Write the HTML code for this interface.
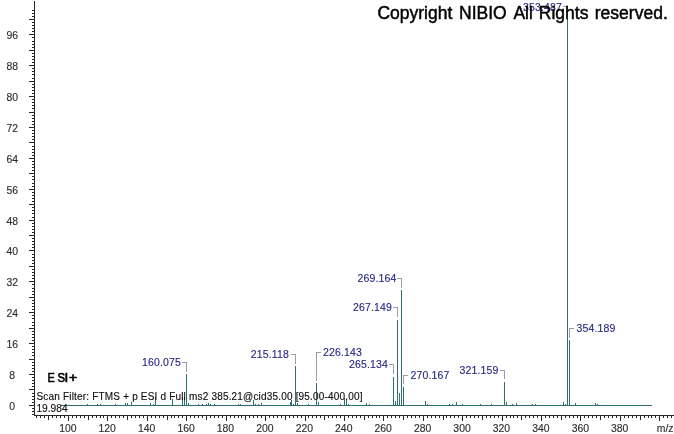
<!DOCTYPE html>
<html><head><meta charset="utf-8"><style>
html,body{margin:0;padding:0;background:#fff;}
svg{display:block;font-family:"Liberation Sans", sans-serif;will-change:transform;}
</style></head><body>
<svg width="674" height="434" viewBox="0 0 674 434" shape-rendering="crispEdges">
<rect x="0" y="0" width="674" height="434" fill="#fff"/>
<rect x="34" y="1" width="1" height="415" fill="#262626"/>
<rect x="34" y="415" width="640" height="1" fill="#262626"/>
<rect x="32" y="414" width="2" height="1" fill="#262626"/>
<rect x="32" y="411" width="2" height="1" fill="#262626"/>
<rect x="32" y="408" width="2" height="1" fill="#262626"/>
<rect x="29" y="405" width="5" height="1" fill="#262626"/>
<rect x="32" y="402" width="2" height="1" fill="#262626"/>
<rect x="32" y="399" width="2" height="1" fill="#262626"/>
<rect x="32" y="396" width="2" height="1" fill="#262626"/>
<rect x="32" y="393" width="2" height="1" fill="#262626"/>
<rect x="29" y="389" width="5" height="1" fill="#262626"/>
<rect x="32" y="386" width="2" height="1" fill="#262626"/>
<rect x="32" y="383" width="2" height="1" fill="#262626"/>
<rect x="32" y="380" width="2" height="1" fill="#262626"/>
<rect x="32" y="377" width="2" height="1" fill="#262626"/>
<rect x="29" y="374" width="5" height="1" fill="#262626"/>
<rect x="32" y="371" width="2" height="1" fill="#262626"/>
<rect x="32" y="368" width="2" height="1" fill="#262626"/>
<rect x="32" y="365" width="2" height="1" fill="#262626"/>
<rect x="32" y="362" width="2" height="1" fill="#262626"/>
<rect x="29" y="359" width="5" height="1" fill="#262626"/>
<rect x="32" y="355" width="2" height="1" fill="#262626"/>
<rect x="32" y="352" width="2" height="1" fill="#262626"/>
<rect x="32" y="349" width="2" height="1" fill="#262626"/>
<rect x="32" y="346" width="2" height="1" fill="#262626"/>
<rect x="29" y="343" width="5" height="1" fill="#262626"/>
<rect x="32" y="340" width="2" height="1" fill="#262626"/>
<rect x="32" y="337" width="2" height="1" fill="#262626"/>
<rect x="32" y="334" width="2" height="1" fill="#262626"/>
<rect x="32" y="331" width="2" height="1" fill="#262626"/>
<rect x="29" y="328" width="5" height="1" fill="#262626"/>
<rect x="32" y="325" width="2" height="1" fill="#262626"/>
<rect x="32" y="322" width="2" height="1" fill="#262626"/>
<rect x="32" y="318" width="2" height="1" fill="#262626"/>
<rect x="32" y="315" width="2" height="1" fill="#262626"/>
<rect x="29" y="312" width="5" height="1" fill="#262626"/>
<rect x="32" y="309" width="2" height="1" fill="#262626"/>
<rect x="32" y="306" width="2" height="1" fill="#262626"/>
<rect x="32" y="303" width="2" height="1" fill="#262626"/>
<rect x="32" y="300" width="2" height="1" fill="#262626"/>
<rect x="29" y="297" width="5" height="1" fill="#262626"/>
<rect x="32" y="294" width="2" height="1" fill="#262626"/>
<rect x="32" y="291" width="2" height="1" fill="#262626"/>
<rect x="32" y="288" width="2" height="1" fill="#262626"/>
<rect x="32" y="284" width="2" height="1" fill="#262626"/>
<rect x="29" y="281" width="5" height="1" fill="#262626"/>
<rect x="32" y="278" width="2" height="1" fill="#262626"/>
<rect x="32" y="275" width="2" height="1" fill="#262626"/>
<rect x="32" y="272" width="2" height="1" fill="#262626"/>
<rect x="32" y="269" width="2" height="1" fill="#262626"/>
<rect x="29" y="266" width="5" height="1" fill="#262626"/>
<rect x="32" y="263" width="2" height="1" fill="#262626"/>
<rect x="32" y="260" width="2" height="1" fill="#262626"/>
<rect x="32" y="257" width="2" height="1" fill="#262626"/>
<rect x="32" y="254" width="2" height="1" fill="#262626"/>
<rect x="29" y="250" width="5" height="1" fill="#262626"/>
<rect x="32" y="247" width="2" height="1" fill="#262626"/>
<rect x="32" y="244" width="2" height="1" fill="#262626"/>
<rect x="32" y="241" width="2" height="1" fill="#262626"/>
<rect x="32" y="238" width="2" height="1" fill="#262626"/>
<rect x="29" y="235" width="5" height="1" fill="#262626"/>
<rect x="32" y="232" width="2" height="1" fill="#262626"/>
<rect x="32" y="229" width="2" height="1" fill="#262626"/>
<rect x="32" y="226" width="2" height="1" fill="#262626"/>
<rect x="32" y="223" width="2" height="1" fill="#262626"/>
<rect x="29" y="220" width="5" height="1" fill="#262626"/>
<rect x="32" y="217" width="2" height="1" fill="#262626"/>
<rect x="32" y="213" width="2" height="1" fill="#262626"/>
<rect x="32" y="210" width="2" height="1" fill="#262626"/>
<rect x="32" y="207" width="2" height="1" fill="#262626"/>
<rect x="29" y="204" width="5" height="1" fill="#262626"/>
<rect x="32" y="201" width="2" height="1" fill="#262626"/>
<rect x="32" y="198" width="2" height="1" fill="#262626"/>
<rect x="32" y="195" width="2" height="1" fill="#262626"/>
<rect x="32" y="192" width="2" height="1" fill="#262626"/>
<rect x="29" y="189" width="5" height="1" fill="#262626"/>
<rect x="32" y="186" width="2" height="1" fill="#262626"/>
<rect x="32" y="183" width="2" height="1" fill="#262626"/>
<rect x="32" y="179" width="2" height="1" fill="#262626"/>
<rect x="32" y="176" width="2" height="1" fill="#262626"/>
<rect x="29" y="173" width="5" height="1" fill="#262626"/>
<rect x="32" y="170" width="2" height="1" fill="#262626"/>
<rect x="32" y="167" width="2" height="1" fill="#262626"/>
<rect x="32" y="164" width="2" height="1" fill="#262626"/>
<rect x="32" y="161" width="2" height="1" fill="#262626"/>
<rect x="29" y="158" width="5" height="1" fill="#262626"/>
<rect x="32" y="155" width="2" height="1" fill="#262626"/>
<rect x="32" y="152" width="2" height="1" fill="#262626"/>
<rect x="32" y="149" width="2" height="1" fill="#262626"/>
<rect x="32" y="146" width="2" height="1" fill="#262626"/>
<rect x="29" y="142" width="5" height="1" fill="#262626"/>
<rect x="32" y="139" width="2" height="1" fill="#262626"/>
<rect x="32" y="136" width="2" height="1" fill="#262626"/>
<rect x="32" y="133" width="2" height="1" fill="#262626"/>
<rect x="32" y="130" width="2" height="1" fill="#262626"/>
<rect x="29" y="127" width="5" height="1" fill="#262626"/>
<rect x="32" y="124" width="2" height="1" fill="#262626"/>
<rect x="32" y="121" width="2" height="1" fill="#262626"/>
<rect x="32" y="118" width="2" height="1" fill="#262626"/>
<rect x="32" y="115" width="2" height="1" fill="#262626"/>
<rect x="29" y="112" width="5" height="1" fill="#262626"/>
<rect x="32" y="108" width="2" height="1" fill="#262626"/>
<rect x="32" y="105" width="2" height="1" fill="#262626"/>
<rect x="32" y="102" width="2" height="1" fill="#262626"/>
<rect x="32" y="99" width="2" height="1" fill="#262626"/>
<rect x="29" y="96" width="5" height="1" fill="#262626"/>
<rect x="32" y="93" width="2" height="1" fill="#262626"/>
<rect x="32" y="90" width="2" height="1" fill="#262626"/>
<rect x="32" y="87" width="2" height="1" fill="#262626"/>
<rect x="32" y="84" width="2" height="1" fill="#262626"/>
<rect x="29" y="81" width="5" height="1" fill="#262626"/>
<rect x="32" y="78" width="2" height="1" fill="#262626"/>
<rect x="32" y="74" width="2" height="1" fill="#262626"/>
<rect x="32" y="71" width="2" height="1" fill="#262626"/>
<rect x="32" y="68" width="2" height="1" fill="#262626"/>
<rect x="29" y="65" width="5" height="1" fill="#262626"/>
<rect x="32" y="62" width="2" height="1" fill="#262626"/>
<rect x="32" y="59" width="2" height="1" fill="#262626"/>
<rect x="32" y="56" width="2" height="1" fill="#262626"/>
<rect x="32" y="53" width="2" height="1" fill="#262626"/>
<rect x="29" y="50" width="5" height="1" fill="#262626"/>
<rect x="32" y="47" width="2" height="1" fill="#262626"/>
<rect x="32" y="44" width="2" height="1" fill="#262626"/>
<rect x="32" y="41" width="2" height="1" fill="#262626"/>
<rect x="32" y="37" width="2" height="1" fill="#262626"/>
<rect x="29" y="34" width="5" height="1" fill="#262626"/>
<rect x="32" y="31" width="2" height="1" fill="#262626"/>
<rect x="32" y="28" width="2" height="1" fill="#262626"/>
<rect x="32" y="25" width="2" height="1" fill="#262626"/>
<rect x="32" y="22" width="2" height="1" fill="#262626"/>
<rect x="29" y="19" width="5" height="1" fill="#262626"/>
<rect x="32" y="16" width="2" height="1" fill="#262626"/>
<rect x="32" y="13" width="2" height="1" fill="#262626"/>
<rect x="32" y="10" width="2" height="1" fill="#262626"/>
<rect x="36" y="416" width="1" height="2" fill="#262626"/>
<rect x="40" y="416" width="1" height="2" fill="#262626"/>
<rect x="44" y="416" width="1" height="2" fill="#262626"/>
<rect x="48" y="416" width="1" height="4" fill="#262626"/>
<rect x="52" y="416" width="1" height="2" fill="#262626"/>
<rect x="56" y="416" width="1" height="2" fill="#262626"/>
<rect x="60" y="416" width="1" height="2" fill="#262626"/>
<rect x="64" y="416" width="1" height="2" fill="#262626"/>
<rect x="68" y="416" width="1" height="5" fill="#262626"/>
<rect x="72" y="416" width="1" height="2" fill="#262626"/>
<rect x="76" y="416" width="1" height="2" fill="#262626"/>
<rect x="80" y="416" width="1" height="2" fill="#262626"/>
<rect x="84" y="416" width="1" height="2" fill="#262626"/>
<rect x="88" y="416" width="1" height="4" fill="#262626"/>
<rect x="92" y="416" width="1" height="2" fill="#262626"/>
<rect x="96" y="416" width="1" height="2" fill="#262626"/>
<rect x="100" y="416" width="1" height="2" fill="#262626"/>
<rect x="103" y="416" width="1" height="2" fill="#262626"/>
<rect x="107" y="416" width="1" height="5" fill="#262626"/>
<rect x="111" y="416" width="1" height="2" fill="#262626"/>
<rect x="115" y="416" width="1" height="2" fill="#262626"/>
<rect x="119" y="416" width="1" height="2" fill="#262626"/>
<rect x="123" y="416" width="1" height="2" fill="#262626"/>
<rect x="127" y="416" width="1" height="4" fill="#262626"/>
<rect x="131" y="416" width="1" height="2" fill="#262626"/>
<rect x="135" y="416" width="1" height="2" fill="#262626"/>
<rect x="139" y="416" width="1" height="2" fill="#262626"/>
<rect x="143" y="416" width="1" height="2" fill="#262626"/>
<rect x="147" y="416" width="1" height="5" fill="#262626"/>
<rect x="151" y="416" width="1" height="2" fill="#262626"/>
<rect x="155" y="416" width="1" height="2" fill="#262626"/>
<rect x="159" y="416" width="1" height="2" fill="#262626"/>
<rect x="163" y="416" width="1" height="2" fill="#262626"/>
<rect x="167" y="416" width="1" height="4" fill="#262626"/>
<rect x="171" y="416" width="1" height="2" fill="#262626"/>
<rect x="174" y="416" width="1" height="2" fill="#262626"/>
<rect x="178" y="416" width="1" height="2" fill="#262626"/>
<rect x="182" y="416" width="1" height="2" fill="#262626"/>
<rect x="186" y="416" width="1" height="5" fill="#262626"/>
<rect x="190" y="416" width="1" height="2" fill="#262626"/>
<rect x="194" y="416" width="1" height="2" fill="#262626"/>
<rect x="198" y="416" width="1" height="2" fill="#262626"/>
<rect x="202" y="416" width="1" height="2" fill="#262626"/>
<rect x="206" y="416" width="1" height="4" fill="#262626"/>
<rect x="210" y="416" width="1" height="2" fill="#262626"/>
<rect x="214" y="416" width="1" height="2" fill="#262626"/>
<rect x="218" y="416" width="1" height="2" fill="#262626"/>
<rect x="222" y="416" width="1" height="2" fill="#262626"/>
<rect x="226" y="416" width="1" height="5" fill="#262626"/>
<rect x="230" y="416" width="1" height="2" fill="#262626"/>
<rect x="234" y="416" width="1" height="2" fill="#262626"/>
<rect x="238" y="416" width="1" height="2" fill="#262626"/>
<rect x="241" y="416" width="1" height="2" fill="#262626"/>
<rect x="245" y="416" width="1" height="4" fill="#262626"/>
<rect x="249" y="416" width="1" height="2" fill="#262626"/>
<rect x="253" y="416" width="1" height="2" fill="#262626"/>
<rect x="257" y="416" width="1" height="2" fill="#262626"/>
<rect x="261" y="416" width="1" height="2" fill="#262626"/>
<rect x="265" y="416" width="1" height="5" fill="#262626"/>
<rect x="269" y="416" width="1" height="2" fill="#262626"/>
<rect x="273" y="416" width="1" height="2" fill="#262626"/>
<rect x="277" y="416" width="1" height="2" fill="#262626"/>
<rect x="281" y="416" width="1" height="2" fill="#262626"/>
<rect x="285" y="416" width="1" height="4" fill="#262626"/>
<rect x="289" y="416" width="1" height="2" fill="#262626"/>
<rect x="293" y="416" width="1" height="2" fill="#262626"/>
<rect x="297" y="416" width="1" height="2" fill="#262626"/>
<rect x="301" y="416" width="1" height="2" fill="#262626"/>
<rect x="305" y="416" width="1" height="5" fill="#262626"/>
<rect x="308" y="416" width="1" height="2" fill="#262626"/>
<rect x="312" y="416" width="1" height="2" fill="#262626"/>
<rect x="316" y="416" width="1" height="2" fill="#262626"/>
<rect x="320" y="416" width="1" height="2" fill="#262626"/>
<rect x="324" y="416" width="1" height="4" fill="#262626"/>
<rect x="328" y="416" width="1" height="2" fill="#262626"/>
<rect x="332" y="416" width="1" height="2" fill="#262626"/>
<rect x="336" y="416" width="1" height="2" fill="#262626"/>
<rect x="340" y="416" width="1" height="2" fill="#262626"/>
<rect x="344" y="416" width="1" height="5" fill="#262626"/>
<rect x="348" y="416" width="1" height="2" fill="#262626"/>
<rect x="352" y="416" width="1" height="2" fill="#262626"/>
<rect x="356" y="416" width="1" height="2" fill="#262626"/>
<rect x="360" y="416" width="1" height="2" fill="#262626"/>
<rect x="364" y="416" width="1" height="4" fill="#262626"/>
<rect x="368" y="416" width="1" height="2" fill="#262626"/>
<rect x="372" y="416" width="1" height="2" fill="#262626"/>
<rect x="376" y="416" width="1" height="2" fill="#262626"/>
<rect x="379" y="416" width="1" height="2" fill="#262626"/>
<rect x="383" y="416" width="1" height="5" fill="#262626"/>
<rect x="387" y="416" width="1" height="2" fill="#262626"/>
<rect x="391" y="416" width="1" height="2" fill="#262626"/>
<rect x="395" y="416" width="1" height="2" fill="#262626"/>
<rect x="399" y="416" width="1" height="2" fill="#262626"/>
<rect x="403" y="416" width="1" height="4" fill="#262626"/>
<rect x="407" y="416" width="1" height="2" fill="#262626"/>
<rect x="411" y="416" width="1" height="2" fill="#262626"/>
<rect x="415" y="416" width="1" height="2" fill="#262626"/>
<rect x="419" y="416" width="1" height="2" fill="#262626"/>
<rect x="423" y="416" width="1" height="5" fill="#262626"/>
<rect x="427" y="416" width="1" height="2" fill="#262626"/>
<rect x="431" y="416" width="1" height="2" fill="#262626"/>
<rect x="435" y="416" width="1" height="2" fill="#262626"/>
<rect x="439" y="416" width="1" height="2" fill="#262626"/>
<rect x="443" y="416" width="1" height="4" fill="#262626"/>
<rect x="446" y="416" width="1" height="2" fill="#262626"/>
<rect x="450" y="416" width="1" height="2" fill="#262626"/>
<rect x="454" y="416" width="1" height="2" fill="#262626"/>
<rect x="458" y="416" width="1" height="2" fill="#262626"/>
<rect x="462" y="416" width="1" height="5" fill="#262626"/>
<rect x="466" y="416" width="1" height="2" fill="#262626"/>
<rect x="470" y="416" width="1" height="2" fill="#262626"/>
<rect x="474" y="416" width="1" height="2" fill="#262626"/>
<rect x="478" y="416" width="1" height="2" fill="#262626"/>
<rect x="482" y="416" width="1" height="4" fill="#262626"/>
<rect x="486" y="416" width="1" height="2" fill="#262626"/>
<rect x="490" y="416" width="1" height="2" fill="#262626"/>
<rect x="494" y="416" width="1" height="2" fill="#262626"/>
<rect x="498" y="416" width="1" height="2" fill="#262626"/>
<rect x="502" y="416" width="1" height="5" fill="#262626"/>
<rect x="506" y="416" width="1" height="2" fill="#262626"/>
<rect x="510" y="416" width="1" height="2" fill="#262626"/>
<rect x="513" y="416" width="1" height="2" fill="#262626"/>
<rect x="517" y="416" width="1" height="2" fill="#262626"/>
<rect x="521" y="416" width="1" height="4" fill="#262626"/>
<rect x="525" y="416" width="1" height="2" fill="#262626"/>
<rect x="529" y="416" width="1" height="2" fill="#262626"/>
<rect x="533" y="416" width="1" height="2" fill="#262626"/>
<rect x="537" y="416" width="1" height="2" fill="#262626"/>
<rect x="541" y="416" width="1" height="5" fill="#262626"/>
<rect x="545" y="416" width="1" height="2" fill="#262626"/>
<rect x="549" y="416" width="1" height="2" fill="#262626"/>
<rect x="553" y="416" width="1" height="2" fill="#262626"/>
<rect x="557" y="416" width="1" height="2" fill="#262626"/>
<rect x="561" y="416" width="1" height="4" fill="#262626"/>
<rect x="565" y="416" width="1" height="2" fill="#262626"/>
<rect x="569" y="416" width="1" height="2" fill="#262626"/>
<rect x="573" y="416" width="1" height="2" fill="#262626"/>
<rect x="577" y="416" width="1" height="2" fill="#262626"/>
<rect x="580" y="416" width="1" height="5" fill="#262626"/>
<rect x="584" y="416" width="1" height="2" fill="#262626"/>
<rect x="588" y="416" width="1" height="2" fill="#262626"/>
<rect x="592" y="416" width="1" height="2" fill="#262626"/>
<rect x="596" y="416" width="1" height="2" fill="#262626"/>
<rect x="600" y="416" width="1" height="4" fill="#262626"/>
<rect x="604" y="416" width="1" height="2" fill="#262626"/>
<rect x="608" y="416" width="1" height="2" fill="#262626"/>
<rect x="612" y="416" width="1" height="2" fill="#262626"/>
<rect x="616" y="416" width="1" height="2" fill="#262626"/>
<rect x="620" y="416" width="1" height="5" fill="#262626"/>
<rect x="624" y="416" width="1" height="2" fill="#262626"/>
<rect x="628" y="416" width="1" height="2" fill="#262626"/>
<rect x="632" y="416" width="1" height="2" fill="#262626"/>
<rect x="636" y="416" width="1" height="2" fill="#262626"/>
<rect x="640" y="416" width="1" height="4" fill="#262626"/>
<rect x="644" y="416" width="1" height="2" fill="#262626"/>
<rect x="648" y="416" width="1" height="2" fill="#262626"/>
<rect x="651" y="416" width="1" height="2" fill="#262626"/>
<rect x="655" y="416" width="1" height="2" fill="#262626"/>
<rect x="659" y="416" width="1" height="5" fill="#262626"/>
<rect x="663" y="416" width="1" height="2" fill="#262626"/>
<rect x="667" y="416" width="1" height="2" fill="#262626"/>
<rect x="671" y="416" width="1" height="2" fill="#262626"/>
<text x="12.2" y="410" font-size="10.4" fill="#2e2e2e" text-anchor="middle" font-weight="normal" stroke="#2e2e2e" stroke-width="0.15">0</text>
<text x="12.2" y="379" font-size="10.4" fill="#2e2e2e" text-anchor="middle" font-weight="normal" stroke="#2e2e2e" stroke-width="0.15">8</text>
<text x="12.2" y="348" font-size="10.4" fill="#2e2e2e" text-anchor="middle" font-weight="normal" stroke="#2e2e2e" stroke-width="0.15">16</text>
<text x="12.2" y="317" font-size="10.4" fill="#2e2e2e" text-anchor="middle" font-weight="normal" stroke="#2e2e2e" stroke-width="0.15">24</text>
<text x="12.2" y="286" font-size="10.4" fill="#2e2e2e" text-anchor="middle" font-weight="normal" stroke="#2e2e2e" stroke-width="0.15">32</text>
<text x="12.2" y="255" font-size="10.4" fill="#2e2e2e" text-anchor="middle" font-weight="normal" stroke="#2e2e2e" stroke-width="0.15">40</text>
<text x="12.2" y="225" font-size="10.4" fill="#2e2e2e" text-anchor="middle" font-weight="normal" stroke="#2e2e2e" stroke-width="0.15">48</text>
<text x="12.2" y="194" font-size="10.4" fill="#2e2e2e" text-anchor="middle" font-weight="normal" stroke="#2e2e2e" stroke-width="0.15">56</text>
<text x="12.2" y="163" font-size="10.4" fill="#2e2e2e" text-anchor="middle" font-weight="normal" stroke="#2e2e2e" stroke-width="0.15">64</text>
<text x="12.2" y="132" font-size="10.4" fill="#2e2e2e" text-anchor="middle" font-weight="normal" stroke="#2e2e2e" stroke-width="0.15">72</text>
<text x="12.2" y="101" font-size="10.4" fill="#2e2e2e" text-anchor="middle" font-weight="normal" stroke="#2e2e2e" stroke-width="0.15">80</text>
<text x="12.2" y="70" font-size="10.4" fill="#2e2e2e" text-anchor="middle" font-weight="normal" stroke="#2e2e2e" stroke-width="0.15">88</text>
<text x="12.2" y="39" font-size="10.4" fill="#2e2e2e" text-anchor="middle" font-weight="normal" stroke="#2e2e2e" stroke-width="0.15">96</text>
<text x="67.81099999999999" y="432" font-size="10.4" fill="#2e2e2e" text-anchor="middle" font-weight="normal" stroke="#2e2e2e" stroke-width="0.15">100</text>
<text x="107.2332" y="432" font-size="10.4" fill="#2e2e2e" text-anchor="middle" font-weight="normal" stroke="#2e2e2e" stroke-width="0.15">120</text>
<text x="146.65540000000001" y="432" font-size="10.4" fill="#2e2e2e" text-anchor="middle" font-weight="normal" stroke="#2e2e2e" stroke-width="0.15">140</text>
<text x="186.0776" y="432" font-size="10.4" fill="#2e2e2e" text-anchor="middle" font-weight="normal" stroke="#2e2e2e" stroke-width="0.15">160</text>
<text x="225.49980000000002" y="432" font-size="10.4" fill="#2e2e2e" text-anchor="middle" font-weight="normal" stroke="#2e2e2e" stroke-width="0.15">180</text>
<text x="264.92199999999997" y="432" font-size="10.4" fill="#2e2e2e" text-anchor="middle" font-weight="normal" stroke="#2e2e2e" stroke-width="0.15">200</text>
<text x="304.34419999999994" y="432" font-size="10.4" fill="#2e2e2e" text-anchor="middle" font-weight="normal" stroke="#2e2e2e" stroke-width="0.15">220</text>
<text x="343.76640000000003" y="432" font-size="10.4" fill="#2e2e2e" text-anchor="middle" font-weight="normal" stroke="#2e2e2e" stroke-width="0.15">240</text>
<text x="383.1886" y="432" font-size="10.4" fill="#2e2e2e" text-anchor="middle" font-weight="normal" stroke="#2e2e2e" stroke-width="0.15">260</text>
<text x="422.6108" y="432" font-size="10.4" fill="#2e2e2e" text-anchor="middle" font-weight="normal" stroke="#2e2e2e" stroke-width="0.15">280</text>
<text x="462.03299999999996" y="432" font-size="10.4" fill="#2e2e2e" text-anchor="middle" font-weight="normal" stroke="#2e2e2e" stroke-width="0.15">300</text>
<text x="501.45519999999993" y="432" font-size="10.4" fill="#2e2e2e" text-anchor="middle" font-weight="normal" stroke="#2e2e2e" stroke-width="0.15">320</text>
<text x="540.8773999999999" y="432" font-size="10.4" fill="#2e2e2e" text-anchor="middle" font-weight="normal" stroke="#2e2e2e" stroke-width="0.15">340</text>
<text x="580.2995999999999" y="432" font-size="10.4" fill="#2e2e2e" text-anchor="middle" font-weight="normal" stroke="#2e2e2e" stroke-width="0.15">360</text>
<text x="619.7217999999999" y="432" font-size="10.4" fill="#2e2e2e" text-anchor="middle" font-weight="normal" stroke="#2e2e2e" stroke-width="0.15">380</text>
<text x="656.8" y="432" font-size="10.4" fill="#2e2e2e" text-anchor="start" font-weight="normal" stroke="#2e2e2e" stroke-width="0.15">m/z</text>
<rect x="61" y="405" width="591" height="1" fill="#2d6e72"/>
<rect x="87" y="404" width="1" height="2" fill="#2d6e72"/>
<rect x="97" y="404" width="1" height="2" fill="#2d6e72"/>
<rect x="100" y="404" width="1" height="2" fill="#2d6e72"/>
<rect x="115" y="404" width="1" height="2" fill="#2d6e72"/>
<rect x="125" y="403" width="1" height="3" fill="#2d6e72"/>
<rect x="127" y="403" width="1" height="3" fill="#2d6e72"/>
<rect x="131" y="402" width="1" height="4" fill="#2d6e72"/>
<rect x="150" y="403" width="1" height="3" fill="#2d6e72"/>
<rect x="153" y="404" width="1" height="2" fill="#2d6e72"/>
<rect x="155" y="397" width="1" height="9" fill="#2d6e72"/>
<rect x="172" y="399" width="1" height="7" fill="#2d6e72"/>
<rect x="182" y="397" width="1" height="9" fill="#2d6e72"/>
<rect x="184" y="397" width="1" height="9" fill="#2d6e72"/>
<rect x="188" y="403" width="1" height="3" fill="#2d6e72"/>
<rect x="198" y="404" width="1" height="2" fill="#2d6e72"/>
<rect x="202" y="404" width="1" height="2" fill="#2d6e72"/>
<rect x="206" y="404" width="1" height="2" fill="#2d6e72"/>
<rect x="208" y="403" width="1" height="3" fill="#2d6e72"/>
<rect x="210" y="404" width="1" height="2" fill="#2d6e72"/>
<rect x="214" y="404" width="1" height="2" fill="#2d6e72"/>
<rect x="238" y="404" width="1" height="2" fill="#2d6e72"/>
<rect x="240" y="404" width="1" height="2" fill="#2d6e72"/>
<rect x="253" y="400" width="1" height="6" fill="#2d6e72"/>
<rect x="255" y="404" width="1" height="2" fill="#2d6e72"/>
<rect x="258" y="404" width="1" height="2" fill="#2d6e72"/>
<rect x="261" y="403" width="1" height="3" fill="#2d6e72"/>
<rect x="290" y="402" width="1" height="4" fill="#2d6e72"/>
<rect x="291" y="400" width="1" height="6" fill="#2d6e72"/>
<rect x="293" y="404" width="1" height="2" fill="#2d6e72"/>
<rect x="297" y="403" width="1" height="3" fill="#2d6e72"/>
<rect x="308" y="404" width="1" height="2" fill="#2d6e72"/>
<rect x="318" y="402" width="1" height="4" fill="#2d6e72"/>
<rect x="340" y="404" width="1" height="2" fill="#2d6e72"/>
<rect x="344" y="398" width="1" height="8" fill="#2d6e72"/>
<rect x="346" y="399" width="1" height="7" fill="#2d6e72"/>
<rect x="348" y="404" width="1" height="2" fill="#2d6e72"/>
<rect x="366" y="403" width="1" height="3" fill="#2d6e72"/>
<rect x="369" y="404" width="1" height="2" fill="#2d6e72"/>
<rect x="395" y="401" width="1" height="5" fill="#2d6e72"/>
<rect x="399" y="393" width="1" height="13" fill="#2d6e72"/>
<rect x="425" y="401" width="1" height="5" fill="#2d6e72"/>
<rect x="427" y="404" width="1" height="2" fill="#2d6e72"/>
<rect x="449" y="404" width="1" height="2" fill="#2d6e72"/>
<rect x="452" y="404" width="1" height="2" fill="#2d6e72"/>
<rect x="456" y="402" width="1" height="4" fill="#2d6e72"/>
<rect x="462" y="404" width="1" height="2" fill="#2d6e72"/>
<rect x="480" y="404" width="1" height="2" fill="#2d6e72"/>
<rect x="491" y="404" width="1" height="2" fill="#2d6e72"/>
<rect x="506" y="402" width="1" height="4" fill="#2d6e72"/>
<rect x="512" y="404" width="1" height="2" fill="#2d6e72"/>
<rect x="516" y="403" width="1" height="3" fill="#2d6e72"/>
<rect x="532" y="404" width="1" height="2" fill="#2d6e72"/>
<rect x="535" y="404" width="1" height="2" fill="#2d6e72"/>
<rect x="563" y="402" width="1" height="4" fill="#2d6e72"/>
<rect x="565" y="404" width="1" height="2" fill="#2d6e72"/>
<rect x="575" y="403" width="1" height="3" fill="#2d6e72"/>
<rect x="595" y="403" width="1" height="3" fill="#2d6e72"/>
<rect x="597" y="404" width="1" height="2" fill="#2d6e72"/>
<rect x="186" y="374" width="1" height="32" fill="#2d6e72"/>
<rect x="186" y="362" width="1" height="10" fill="#9c9ca6"/>
<rect x="182" y="362" width="4" height="1" fill="#9c9ca6"/>
<text x="181" y="366" font-size="10.5" fill="#262682" text-anchor="end" font-weight="normal" letter-spacing="0.15" stroke="#262682" stroke-width="0.12">160.075</text>
<rect x="295" y="366" width="1" height="40" fill="#2d6e72"/>
<rect x="295" y="354" width="1" height="10" fill="#9c9ca6"/>
<rect x="291" y="354" width="4" height="1" fill="#9c9ca6"/>
<text x="289" y="358" font-size="10.5" fill="#262682" text-anchor="end" font-weight="normal" letter-spacing="0.15" stroke="#262682" stroke-width="0.12">215.118</text>
<rect x="316" y="383" width="1" height="23" fill="#2d6e72"/>
<rect x="316" y="352" width="1" height="29" fill="#9c9ca6"/>
<rect x="317" y="352" width="4" height="1" fill="#9c9ca6"/>
<text x="323" y="356" font-size="10.5" fill="#262682" text-anchor="start" font-weight="normal" letter-spacing="0.15" stroke="#262682" stroke-width="0.12">226.143</text>
<rect x="393" y="377" width="1" height="29" fill="#2d6e72"/>
<rect x="393" y="364" width="1" height="10" fill="#9c9ca6"/>
<rect x="389" y="364" width="4" height="1" fill="#9c9ca6"/>
<text x="388" y="368" font-size="10.5" fill="#262682" text-anchor="end" font-weight="normal" letter-spacing="0.15" stroke="#262682" stroke-width="0.12">265.134</text>
<rect x="397" y="320" width="1" height="86" fill="#2d6e72"/>
<rect x="397" y="307" width="1" height="10" fill="#9c9ca6"/>
<rect x="393" y="307" width="4" height="1" fill="#9c9ca6"/>
<text x="392" y="311" font-size="10.5" fill="#262682" text-anchor="end" font-weight="normal" letter-spacing="0.15" stroke="#262682" stroke-width="0.12">267.149</text>
<rect x="401" y="290" width="1" height="116" fill="#2d6e72"/>
<rect x="401" y="278" width="1" height="10" fill="#9c9ca6"/>
<rect x="397" y="278" width="4" height="1" fill="#9c9ca6"/>
<text x="396.5" y="282" font-size="10.5" fill="#262682" text-anchor="end" font-weight="normal" letter-spacing="0.15" stroke="#262682" stroke-width="0.12">269.164</text>
<rect x="403" y="387" width="1" height="19" fill="#2d6e72"/>
<rect x="403" y="375" width="1" height="9" fill="#9c9ca6"/>
<rect x="404" y="375" width="4" height="1" fill="#9c9ca6"/>
<text x="410.5" y="379" font-size="10.5" fill="#262682" text-anchor="start" font-weight="normal" letter-spacing="0.15" stroke="#262682" stroke-width="0.12">270.167</text>
<rect x="504" y="382" width="1" height="24" fill="#2d6e72"/>
<rect x="504" y="370" width="1" height="9" fill="#9c9ca6"/>
<rect x="500" y="370" width="4" height="1" fill="#9c9ca6"/>
<text x="498.5" y="374" font-size="10.5" fill="#262682" text-anchor="end" font-weight="normal" letter-spacing="0.15" stroke="#262682" stroke-width="0.12">321.159</text>
<rect x="567" y="19" width="1" height="387" fill="#2d6e72"/>
<rect x="567" y="6" width="1" height="11" fill="#9c9ca6"/>
<rect x="563" y="6" width="4" height="1" fill="#9c9ca6"/>
<text x="562" y="11" font-size="10.5" fill="#262682" text-anchor="end" font-weight="normal" letter-spacing="0.15" stroke="#262682" stroke-width="0.12">353.487</text>
<rect x="569" y="340" width="1" height="66" fill="#2d6e72"/>
<rect x="569" y="328" width="1" height="10" fill="#9c9ca6"/>
<rect x="570" y="328" width="4" height="1" fill="#9c9ca6"/>
<text x="576.5" y="332" font-size="10.5" fill="#262682" text-anchor="start" font-weight="normal" letter-spacing="0.15" stroke="#262682" stroke-width="0.12">354.189</text>
<text x="377.4" y="19" font-size="17.5" fill="#000" stroke="#000" stroke-width="0.45">Copyright</text>
<text x="459.0" y="19" font-size="17.5" fill="#000" stroke="#000" stroke-width="0.45">NIBIO</text>
<text x="513.4" y="19" font-size="17.5" fill="#000" stroke="#000" stroke-width="0.45">All</text>
<text x="538.8" y="19" font-size="17.5" fill="#000" stroke="#000" stroke-width="0.45">Rights</text>
<text x="594.8" y="19" font-size="17.5" fill="#000" stroke="#000" stroke-width="0.45">reserved.</text>
<text transform="translate(47.6,381.5) scale(0.8,1)" x="0" y="0" font-size="13.6" fill="#000" stroke="#000" stroke-width="0.65">E</text>
<text transform="translate(57.4,381.5) scale(0.84,1)" x="0" y="0" font-size="13.6" fill="#000" stroke="#000" stroke-width="0.65">S</text>
<text transform="translate(64.5,381.5) scale(1.0,1)" x="0" y="0" font-size="13.6" fill="#000" stroke="#000" stroke-width="0.65">I</text>
<text transform="translate(68.9,381.5) scale(1.02,1)" x="0" y="0" font-size="13.6" fill="#000" stroke="#000" stroke-width="0.65">+</text>
<text x="36.5" y="400" font-size="10" fill="#111" text-anchor="start" font-weight="normal" textLength="326" lengthAdjust="spacing" stroke="#111" stroke-width="0.15">Scan Filter: FTMS + p ESI d Full ms2 385.21@cid35.00 [95.00-400.00]</text>
<text x="36.4" y="412" font-size="10.2" fill="#111" text-anchor="start" font-weight="normal" stroke="#111" stroke-width="0.15">19.984</text>
</svg>
</body></html>
